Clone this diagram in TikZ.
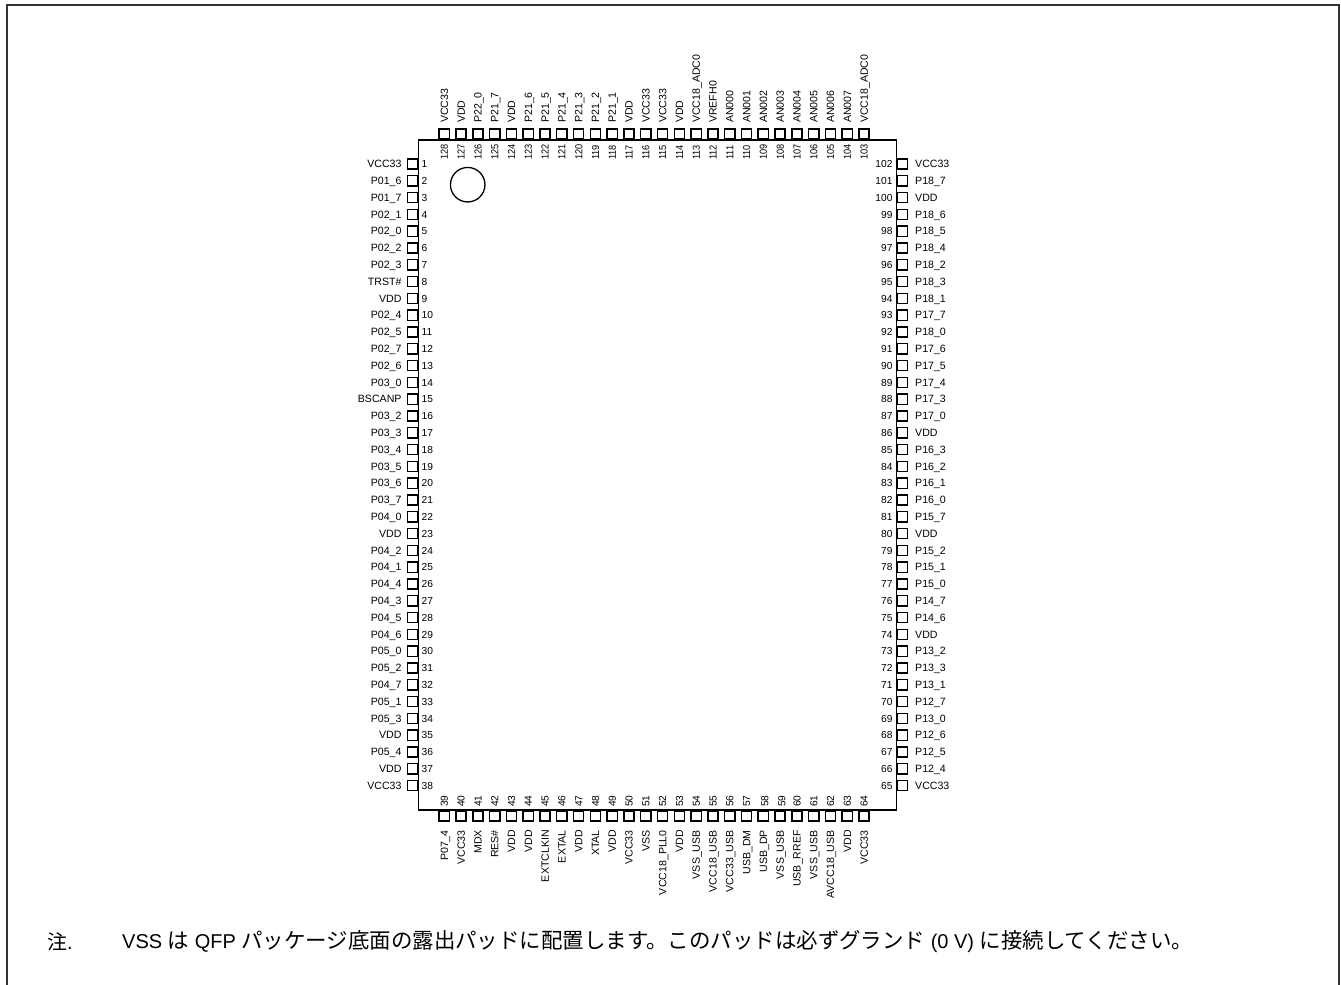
\documentclass[tikz,border=0pt]{standalone}
\usepackage{fontspec}
\setmainfont{Liberation Sans}
\newfontfamily\jpfont{Noto Sans CJK JP}
\newcommand{\pinfont}{\fontsize{10.6}{12}\selectfont}
\newcommand{\numfont}{\fontsize{10.2}{12}\selectfont}
\newcommand{\jpsize}{\fontsize{21.45}{24}\selectfont}
\begin{document}
\begin{tikzpicture}[x=1pt,y=-1pt,
  pinbox/.style={draw=black,line width=1.5pt,fill=white,minimum width=10.2pt,minimum height=10.2pt,inner sep=0pt},
  pinname/.style={inner sep=0pt,font=\pinfont,text=black,text height=7.5pt,text depth=0pt},
  pinnum/.style={inner sep=0pt,font=\numfont,text=black,text height=7.3pt,text depth=0pt},
  notetext/.style={inner sep=0pt,font=\fontsize{20}{24}\selectfont,text=black}]
\useasboundingbox (0,0) rectangle (1341,985);
\draw[line width=1.6pt,black!80] (7,985) -- (7,5) -- (1339,5) -- (1339,985);
\coordinate (bodyTL) at (418.3,140);
\coordinate (bodyBR) at (896.7,810);
\node[circle,draw,line width=1.3pt,minimum size=34.5pt,inner sep=0pt] (mark) at (467.7,184.7) {};
% left
\foreach \n/\t [count=\i from 0] in {1/VCC33,2/P01\_6,3/P01\_7,4/P02\_1,5/P02\_0,6/P02\_2,7/P02\_3,8/TRST\#,9/VDD,10/P02\_4,11/P02\_5,12/P02\_7,13/P02\_6,14/P03\_0,15/BSCANP,16/P03\_2,17/P03\_3,18/P03\_4,19/P03\_5,20/P03\_6,21/P03\_7,22/P04\_0,23/VDD,24/P04\_2,25/P04\_1,26/P04\_4,27/P04\_3,28/P04\_5,29/P04\_6,30/P05\_0,31/P05\_2,32/P04\_7,33/P05\_1,34/P05\_3,35/VDD,36/P05\_4,37/VDD,38/VCC33}{
  \pgfmathsetmacro\yy{164+\i*16.8}
  \node[pinbox] (L\n) at (412.7,\yy) {};
  \node[pinname,anchor=east] (LT\n) at (401.7,\yy) {\t};
  \node[pinnum,anchor=west] (LN\n) at (421.5,\yy) {\n};
}
% right
\foreach \n/\t [count=\i from 0] in {102/VCC33,101/P18\_7,100/VDD,99/P18\_6,98/P18\_5,97/P18\_4,96/P18\_2,95/P18\_3,94/P18\_1,93/P17\_7,92/P18\_0,91/P17\_6,90/P17\_5,89/P17\_4,88/P17\_3,87/P17\_0,86/VDD,85/P16\_3,84/P16\_2,83/P16\_1,82/P16\_0,81/P15\_7,80/VDD,79/P15\_2,78/P15\_1,77/P15\_0,76/P14\_7,75/P14\_6,74/VDD,73/P13\_2,72/P13\_3,71/P13\_1,70/P12\_7,69/P13\_0,68/P12\_6,67/P12\_5,66/P12\_4,65/VCC33}{
  \pgfmathsetmacro\yy{164+\i*16.8}
  \node[pinbox] (R\n) at (902.3,\yy) {};
  \node[pinname,anchor=west] (RT\n) at (915,\yy) {\t};
  \node[pinnum,anchor=east] (RN\n) at (892.7,\yy) {\n};
}
% top
\foreach \n/\t [count=\i from 0] in {128/VCC33,127/VDD,126/P22\_0,125/P21\_7,124/VDD,123/P21\_6,122/P21\_5,121/P21\_4,120/P21\_3,119/P21\_2,118/P21\_1,117/VDD,116/VCC33,115/VCC33,114/VDD,113/VCC18\_ADC0,112/VREFH0,111/AN000,110/AN001,109/AN002,108/AN003,107/AN004,106/AN005,105/AN006,104/AN007,103/VCC18\_ADC0}{
  \pgfmathsetmacro\xx{444.3+\i*16.79}
  \node[pinbox] (T\n) at (\xx,134) {};
  \node[pinname,anchor=west,rotate=90] (TT\n) at (\xx,123) {\t};
  \node[pinnum,anchor=west,rotate=90] (TN\n) at (\xx,160) {\scalebox{0.9}[1]{\n}};
}
% bottom
\foreach \n/\t/\d [count=\i from 0] in {39/P07\_4/0,40/VCC33/0,41/MDX/0,42/RES\#/0,43/VDD/0,44/VDD/0,45/EXTCLKIN/0,46/EXTAL/0,47/VDD/0,48/XTAL/0,49/VDD/0,50/VCC33/0,51/VSS/0,52/VCC18\_PLL0/0,53/VDD/0,54/VSS\_USB/0,55/VCC18\_USB/0,56/VCC33\_USB/0,57/USB\_DM/0,58/USB\_DP/1.5,59/VSS\_USB/1.5,60/USB\_RREF/0,61/VSS\_USB/0,62/AVCC18\_USB/0,63/VDD/0,64/VCC33/0}{
  \pgfmathsetmacro\xx{444.3+\i*16.79}
  \pgfmathsetmacro\xn{\xx+\d}
  \node[pinbox] (B\n) at (\xx,816) {};
  \node[pinname,anchor=east,rotate=90] (BT\n) at (\xx,830) {\t};
  \node[pinnum,anchor=west,rotate=90] (BN\n) at (\xn,807) {\n};
}
% package outline drawn over the pin boxes
\draw[line width=1.5pt] (bodyTL) rectangle (bodyBR);
\node[notetext,anchor=west] (note0) at (47,941.5) {\jpfont 注{\rmfamily .}};
\node[notetext,anchor=west] (note1) at (122,941.5) {VSS {\jpfont\jpsize は} QFP {\jpfont\jpsize パッケージ底面の露出パッドに配置します。このパッドは必ずグランド} (0 V) {\jpfont\jpsize に接続してください。}};
\end{tikzpicture}
\end{document}
